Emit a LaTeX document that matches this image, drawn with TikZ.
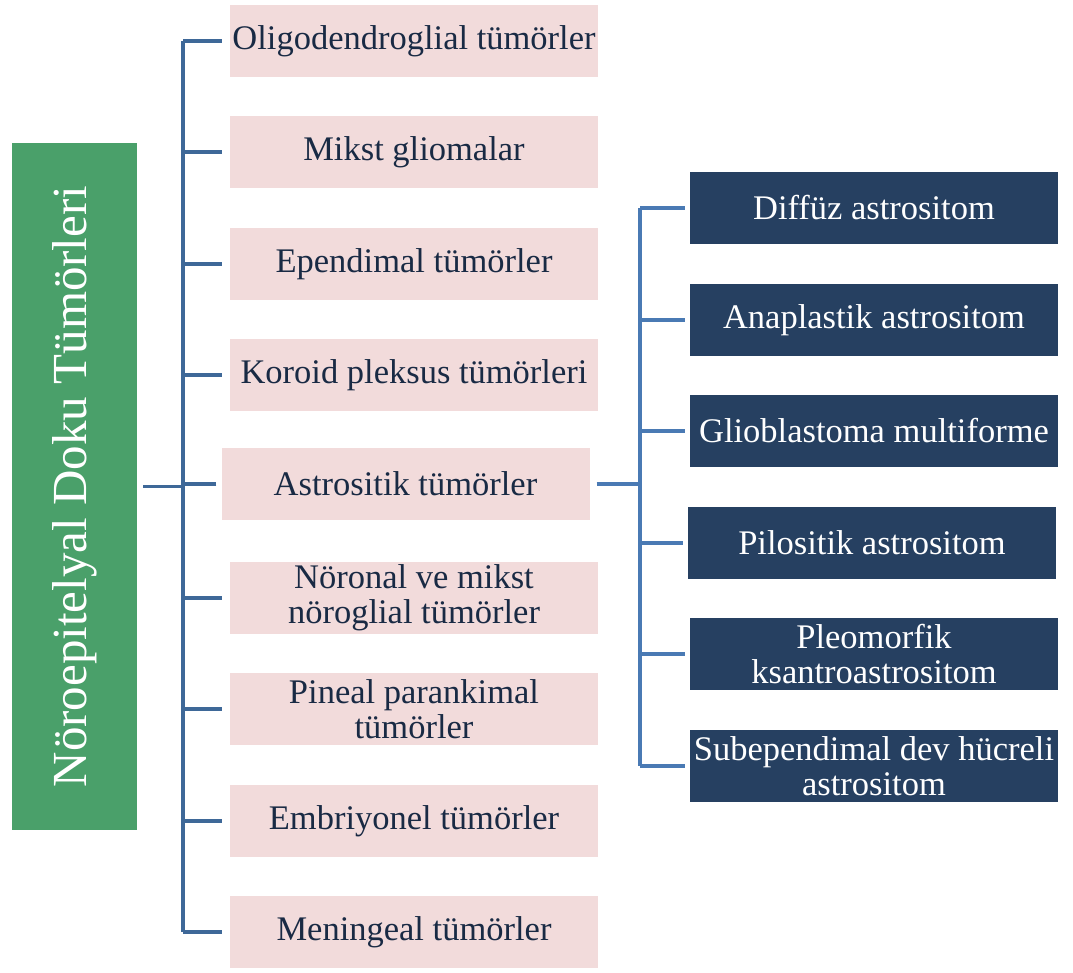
\documentclass[tikz,border=0pt]{standalone}
\usepackage{fontspec}
\setmainfont{Liberation Serif}
\definecolor{RootGreen}  {RGB}{74,160,106}
\definecolor{BoxPink}    {RGB}{242,219,219}
\definecolor{BoxNavy}    {RGB}{38,64,97}
\definecolor{TextNavy}   {RGB}{25,42,68}
\definecolor{LineBlueA}  {RGB}{62,104,152}
\definecolor{LineBlueB}  {RGB}{74,122,180}
\usetikzlibrary{positioning,calc}

\begin{document}
\begin{tikzpicture}[x=1pt,y=-1pt,
  pinkbox/.style={fill=BoxPink,draw=none,inner sep=0pt,
              minimum width=368pt,minimum height=72pt,
              align=center,text=TextNavy,font=\fontsize{34.5}{35}\selectfont},
  navybox/.style={fill=BoxNavy,draw=none,inner sep=0pt,
              minimum width=368pt,minimum height=72pt,
              align=center,text=white,font=\fontsize{34.5}{35}\selectfont},
  conn/.style={line width=3.8pt}]
  \useasboundingbox (0,0) rectangle (1073,972);
  \node[fill=RootGreen,rotate=90,minimum width=687pt,minimum height=125pt,
        inner sep=0pt,text=white,font=\fontsize{49}{52}\selectfont]
       (root) at (74.5,486.5) {Nöroepitelyal Doku Tümörleri};
  \node[pinkbox](o1) at (414,41) {Oligodendroglial tümörler};
  \node[pinkbox](o2) at (414,152) {Mikst gliomalar};
  \node[pinkbox](o3) at (414,264) {Ependimal tümörler};
  \node[pinkbox](o4) at (414,375) {Koroid pleksus tümörleri};
  \node[pinkbox](astro) at (405.5,484) {Astrositik tümörler};
  \node[pinkbox](o6) at (414,598) {Nöronal ve mikst\\nöroglial tümörler};
  \node[pinkbox](o7) at (414,709) {Pineal parankimal\\tümörler};
  \node[pinkbox](o8) at (414,821) {Embriyonel tümörler};
  \node[pinkbox](o9) at (414,932) {Meningeal tümörler};
  \node[navybox](a1) at (874,208) {Diffüz astrositom};
  \node[navybox](a2) at (874,320) {Anaplastik astrositom};
  \node[navybox](a3) at (874,431) {Glioblastoma multiforme};
  \node[navybox](a4) at (872,543) {Pilositik astrositom};
  \node[navybox](a5) at (874,654) {Pleomorfik\\ksantroastrositom};
  \node[navybox](a6) at (874,766) {Subependimal dev hücreli\\astrositom};
  \coordinate (lt) at (183,0);
  \coordinate (rt) at (640,0);
  \draw[conn,LineBlueA](lt |- o1.west)--(lt |- o9.west);
  \draw[conn,LineBlueA,shorten <=6pt](root.south)--(lt |- root.south);
  \foreach \n in {o1,o2,o3,o4,o6,o7,o8,o9}
    \draw[conn,LineBlueA,shorten <=8pt](\n.west)--(lt |- \n.west);
  \draw[conn,LineBlueA,shorten <=5pt](astro.west)--(lt |- astro.west);
  \draw[conn,LineBlueB,shorten <=7pt](astro.east)--(rt |- astro.east);
  \draw[conn,LineBlueB](rt |- a1.west)--(rt |- a6.west);
  \foreach \n in {a1,a2,a3,a4,a5,a6}
    \draw[conn,LineBlueB,shorten <=5pt](\n.west)--(rt |- \n.west);
\end{tikzpicture}
\end{document}
